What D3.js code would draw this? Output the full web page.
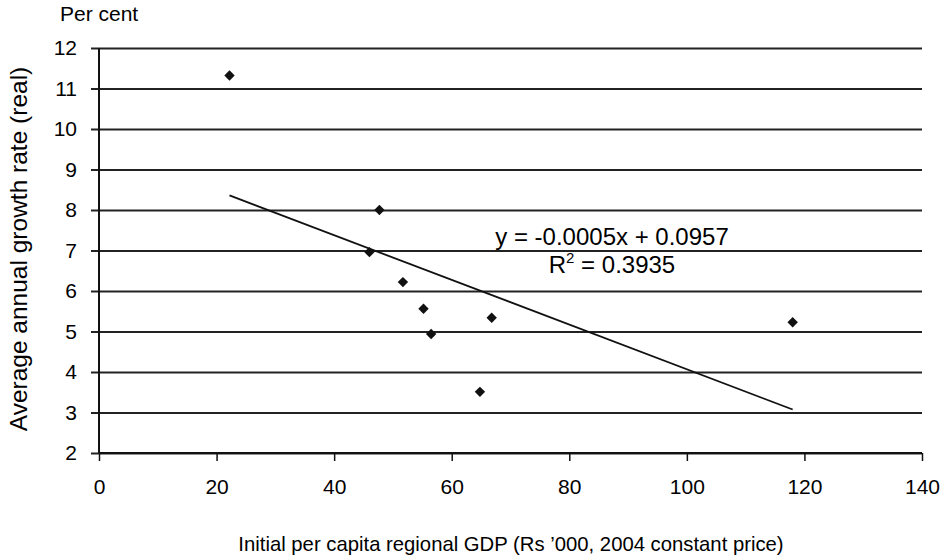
<!DOCTYPE html>
<html>
<head>
<meta charset="utf-8">
<script src="https://cdn.jsdelivr.net/npm/d3@7"></script>
<style>
  body { margin: 0; background: #fff; }
  svg { display: block; font-family: "Liberation Sans", Arial, sans-serif; }
</style>
</head>
<body>
<div id="chart"></div>
<script>
const width = 950
const height = 559

// Initial per capita regional GDP (Rs '000) vs average annual growth (%)
const gdp = [22.2, 47.7, 46.0, 51.7, 55.2, 56.5, 66.8, 64.8, 118.0]
const growth = [11.32, 8.0, 6.96, 6.22, 5.56, 4.94, 5.34, 3.51, 5.23]
const xTicks = [0, 20, 40, 60, 80, 100, 120, 140]
const yTicks = [2, 3, 4, 5, 6, 7, 8, 9, 10, 11, 12]
const equation = "y = -0.0005x + 0.0957"
const rSquared = "0.3935"

const margin = {top: 48, right: 28, bottom: 106, left: 99}

const x = d3.scaleLinear().domain([0, 140]).range([margin.left, width - margin.right])
const y = d3.scaleLinear().domain([2, 12]).range([height - margin.bottom, margin.top])

const svg = d3.select("#chart").append("svg")
  .attr("width", width)
  .attr("height", height)

// horizontal gridlines (also act as y ticks, sticking out left)
svg.append("g")
  .attr("transform", `translate(${margin.left},0)`)
  .call(d3.axisLeft(y).tickValues(yTicks).tickSize(8).tickPadding(14).tickFormat(d3.format("d")))
  .call(g => g.select(".domain").remove())
  .call(g => g.selectAll(".tick line")
    .attr("x2", x(140) - margin.left)
    .attr("x1", -8)
    .attr("stroke", "#222")
    .attr("stroke-width", 1.8))
  .call(g => g.selectAll(".tick text")
    .attr("font-size", 21)
    .attr("fill", "#000")
    .attr("font-family", "Liberation Sans, Arial, sans-serif"))

// x axis
svg.append("g")
  .attr("transform", `translate(0,${y(2)})`)
  .call(d3.axisBottom(x).tickValues(xTicks).tickSize(8).tickPadding(18))
  .call(g => g.select(".domain").attr("stroke", "#111").attr("stroke-width", 2).attr("d", `M${x(0)},0H${x(140)}`))
  .call(g => g.selectAll(".tick line").attr("stroke", "#111").attr("stroke-width", 1.5))
  .call(g => g.selectAll(".tick text")
    .attr("font-size", 21)
    .attr("fill", "#000")
    .attr("font-family", "Liberation Sans, Arial, sans-serif"))

// y axis line
svg.append("line")
  .attr("x1", x(0)).attr("x2", x(0))
  .attr("y1", y(12)).attr("y2", y(2))
  .attr("stroke", "#111")
  .attr("stroke-width", 2)

// least squares trend line over the data range
const mx = d3.mean(gdp), my = d3.mean(growth)
const sxy = d3.sum(gdp, (v, i) => (v - mx) * (growth[i] - my))
const sxx = d3.sum(gdp, v => (v - mx) ** 2)
const slope = sxy / sxx
const intercept = my - slope * mx
const [x0, x1] = d3.extent(gdp)

svg.append("line")
  .attr("x1", x(x0)).attr("y1", y(intercept + slope * x0))
  .attr("x2", x(x1)).attr("y2", y(intercept + slope * x1))
  .attr("stroke", "#111")
  .attr("stroke-width", 1.8)

// diamond markers
svg.append("g")
  .selectAll("path")
  .data(gdp.map((v, i) => [v, growth[i]]))
  .join("path")
    .attr("d", d3.symbol(d3.symbolSquare, 54))
    .attr("transform", d => `translate(${x(d[0])},${y(d[1])}) rotate(45)`)
    .attr("fill", "#111")

// equation label
const eq = svg.append("g")
  .attr("font-size", 24)
  .attr("text-anchor", "middle")
eq.append("text")
  .attr("x", 612).attr("y", 245)
  .text(equation)
const r2 = eq.append("text")
  .attr("x", 612).attr("y", 273)
r2.append("tspan").text("R")
r2.append("tspan").attr("font-size", 15).attr("dy", -10).text("2")
r2.append("tspan").attr("dy", 10).text(" = " + rSquared)

// axis titles
svg.append("text")
  .attr("x", 60).attr("y", 21)
  .attr("font-size", 21)
  .text("Per cent")

svg.append("text")
  .attr("transform", "translate(27,249) rotate(-90)")
  .attr("text-anchor", "middle")
  .attr("font-size", 24.5)
  .text("Average annual growth rate (real)")

svg.append("text")
  .attr("x", 511).attr("y", 551)
  .attr("text-anchor", "middle")
  .attr("font-size", 20.3)
  .text("Initial per capita regional GDP (Rs \u2019000, 2004 constant price)")
</script>
</body>
</html>
